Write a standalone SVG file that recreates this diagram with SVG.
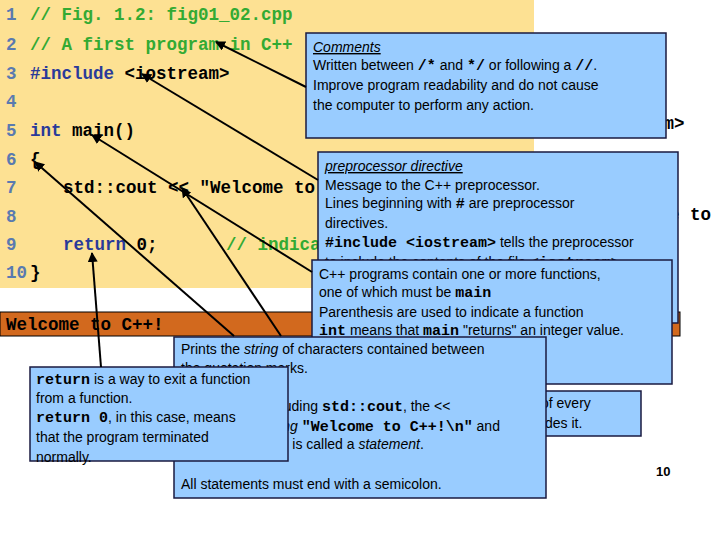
<svg xmlns="http://www.w3.org/2000/svg" width="720" height="540" viewBox="0 0 720 540">
<defs>
<style>
.c{font-family:"Liberation Mono",monospace;font-weight:bold;font-size:17.5px}
.n{fill:#5a7ab0}.g{fill:#33aa33}.k{fill:#2a3a9a}.b{fill:#000}
.box{fill:#99ccff;stroke:#1a1a40;stroke-width:1.5}
.t{font-family:"Liberation Sans",Arial,sans-serif;font-size:14px;fill:#000}
.m{font-family:"Liberation Mono",monospace;font-weight:bold;font-size:15px}
.cn{stroke:#000;stroke-width:2;fill:none;marker-end:url(#ah)}
</style>
<marker id="ah" viewBox="0 0 10 10" refX="9" refY="5" markerWidth="5" markerHeight="5" orient="auto"><path d="M0,0L10,5L0,10z" fill="#000"/></marker>
</defs>
<rect width="720" height="540" fill="#fff"/>
<rect x="0" y="0" width="534" height="288" fill="#fde193"/>
<g id="code" class="c">
<text x="6" y="20"><tspan class="n">1 </tspan><tspan class="g" x="30">// Fig. 1.2: fig01_02.cpp</tspan></text>
<text x="6" y="50"><tspan class="n">2 </tspan><tspan class="g" x="30">// A first program in C++</tspan></text>
<text x="6" y="79"><tspan class="n">3 </tspan><tspan class="k" x="30">#include</tspan><tspan class="b"> &lt;iostream&gt;</tspan></text>
<text x="6" y="107"><tspan class="n">4</tspan></text>
<text x="6" y="136"><tspan class="n">5 </tspan><tspan class="k" x="30">int</tspan><tspan class="b"> main()</tspan></text>
<text x="6" y="165"><tspan class="n">6 </tspan><tspan class="b" x="30">{</tspan></text>
<text x="6" y="193"><tspan class="n">7 </tspan><tspan class="b" x="63">std::cout &lt;&lt; "Welcome to C++!\n";</tspan></text>
<text x="6" y="222"><tspan class="n">8</tspan></text>
<text x="6" y="250"><tspan class="n">9 </tspan><tspan class="k" x="63">return</tspan><tspan class="b"> 0;</tspan><tspan class="g" x="226">// indicate that program ended successfully</tspan></text>
<text x="6" y="278"><tspan class="n">10</tspan><tspan class="b" x="30">}</tspan></text>
</g>
<g id="behind" class="c b">
<text x="485" y="129">#include &lt;iostream&gt;</text>
<text x="606" y="220">Welcome to</text>
</g>
<g id="output">
<rect x="0" y="312" width="680" height="24" fill="#d2691e" stroke="#000" stroke-width="1"/>
<text x="6" y="330" class="c b" font-size="16">Welcome to C++!</text>
</g>
<g id="n-every">
<rect class="box" x="400" y="391" width="241" height="45"/>
<text class="t" x="541" y="408">of every</text>
<text class="t" x="510" y="428">precedes it.</text>
</g>
<g id="n-comments">
<rect class="box" x="306" y="33" width="360" height="105"/>
<text class="t" x="313" y="52" font-style="italic" text-decoration="underline">Comments</text>
<text class="t" x="313" y="70">Written between <tspan class="m">/*</tspan> and <tspan class="m">*/</tspan> or following a <tspan class="m">//</tspan>.</text>
<text class="t" x="313" y="90">Improve program readability and do not cause</text>
<text class="t" x="313" y="110">the computer to perform any action.</text>
</g>
<g id="n-preproc">
<rect class="box" x="318" y="152" width="360" height="171"/>
<text class="t" x="325" y="171" font-style="italic" text-decoration="underline">preprocessor directive</text>
<text class="t" x="325" y="190">Message to the C++ preprocessor.</text>
<text class="t" x="325" y="208">Lines beginning with <tspan class="m">#</tspan> are preprocessor</text>
<text class="t" x="325" y="228">directives.</text>
<text class="t" x="325" y="247"><tspan class="m">#include &lt;iostream&gt;</tspan> tells the preprocessor</text>
<text class="t" x="325" y="267">to include the contents of the file <tspan class="m">&lt;iostream&gt;</tspan>.</text>
</g>
<g id="n-main">
<rect class="box" x="312" y="260" width="360" height="124"/>
<text class="t" x="319" y="279">C++ programs contain one or more functions,</text>
<text class="t" x="319" y="297">one of which must be <tspan class="m">main</tspan></text>
<text class="t" x="319" y="317">Parenthesis are used to indicate a function</text>
<text class="t" x="319" y="335"><tspan class="m">int</tspan> means that <tspan class="m">main</tspan> "returns" an integer value.</text>
</g>
<g id="n-prints">
<rect class="box" x="174" y="337" width="372" height="161"/>
<text class="t" x="181" y="354">Prints the <tspan font-style="italic">string</tspan> of characters contained between</text>
<text class="t" x="181" y="373">the quotation marks.</text>
<text class="t" x="181" y="411">A statement, including <tspan class="m">std::cout</tspan>, the &lt;&lt;</text>
<text class="t" x="181" y="431">operator, the <tspan font-style="italic">string</tspan> <tspan class="m">"Welcome to C++!\n"</tspan> and</text>
<text class="t" x="181" y="449">the semicolon (<tspan font-style="italic">;</tspan>), is called a <tspan font-style="italic">statement</tspan>.</text>
<text class="t" x="181" y="489">All statements must end with a semicolon.</text>
</g>
<g id="n-return">
<rect class="box" x="30" y="367" width="258" height="94"/>
<text class="t" x="36" y="384"><tspan class="m">return</tspan> is a way to exit a function</text>
<text class="t" x="36" y="403">from a function.</text>
<text class="t" x="36" y="422"><tspan class="m">return 0</tspan>, in this case, means</text>
<text class="t" x="36" y="442">that the program terminated</text>
<text class="t" x="36" y="462">normally.</text>
</g>
<text x="656" y="476" font-family="Liberation Sans,Arial,sans-serif" font-weight="bold" font-size="13">10</text>
<g id="connectors">
<line class="cn" x1="306" y1="87" x2="216" y2="42"/>
<line class="cn" x1="318" y1="180" x2="142" y2="74"/>
<line class="cn" x1="312" y1="272" x2="92" y2="135"/>
<line class="cn" x1="234" y1="336" x2="35" y2="162"/>
<line class="cn" x1="281" y1="336" x2="182" y2="188"/>
<line class="cn" x1="101" y1="367" x2="92" y2="253"/>
</g>
</svg>
